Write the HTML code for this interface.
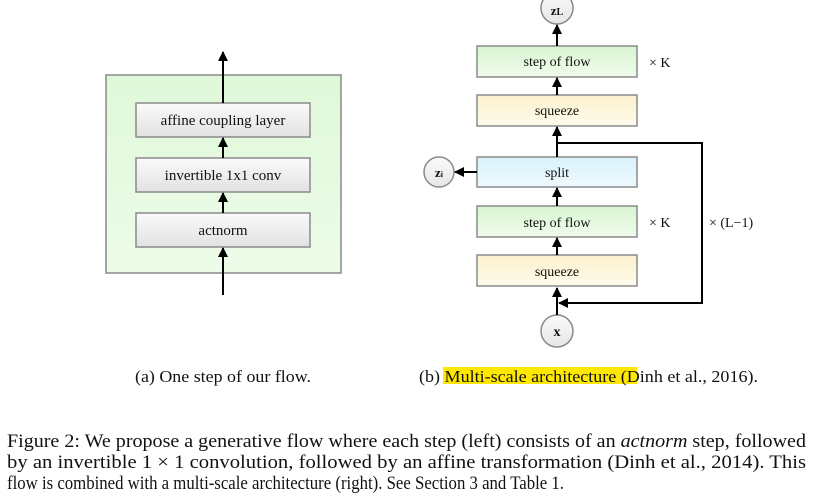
<!DOCTYPE html>
<html><head><meta charset="utf-8"><style>
html,body{margin:0;padding:0;background:#fff;}
svg{display:block;}
text{font-family:"Liberation Serif",serif;fill:#111;}
</style></head><body>
<svg width="813" height="493" viewBox="0 0 813 493" xmlns="http://www.w3.org/2000/svg">
<defs>
<marker id="ah" markerWidth="10" markerHeight="10" refX="9" refY="5" orient="auto" markerUnits="userSpaceOnUse">
<path d="M0,0 L10,5 L0,10 z" fill="#000"/></marker>
<linearGradient id="gg" x1="0" y1="0" x2="0" y2="1"><stop offset="0" stop-color="#fafafa"/><stop offset="1" stop-color="#e2e2e2"/></linearGradient>
<linearGradient id="gr" x1="0" y1="0" x2="0" y2="1"><stop offset="0" stop-color="#d8f5d2"/><stop offset="1" stop-color="#f0fcec"/></linearGradient>
<linearGradient id="gy" x1="0" y1="0" x2="0" y2="1"><stop offset="0" stop-color="#fbf1cc"/><stop offset="1" stop-color="#fefbec"/></linearGradient>
<linearGradient id="gb" x1="0" y1="0" x2="0" y2="1"><stop offset="0" stop-color="#d9f1fb"/><stop offset="1" stop-color="#eef9fd"/></linearGradient>
<linearGradient id="gc" x1="0" y1="0" x2="0" y2="1"><stop offset="0" stop-color="#fafafa"/><stop offset="1" stop-color="#e6e6e6"/></linearGradient>
<linearGradient id="go" x1="0" y1="0" x2="0" y2="1"><stop offset="0" stop-color="#dff8d9"/><stop offset="1" stop-color="#edfce9"/></linearGradient>
</defs>
<!-- Left -->
<rect x="106" y="75" width="235" height="198" fill="url(#go)" stroke="#8a8a8a" stroke-width="1.5"/>
<g stroke="#8a8a8a" stroke-width="1.5" fill="url(#gg)">
<rect x="136" y="103" width="174" height="34"/>
<rect x="136" y="158" width="174" height="34"/>
<rect x="136" y="213" width="174" height="34"/>
</g>
<g font-size="15" text-anchor="middle">
<text x="223" y="125">affine coupling layer</text>
<text x="223" y="180">invertible 1x1 conv</text>
<text x="223" y="235">actnorm</text>
</g>
<g stroke="#000" stroke-width="2" marker-end="url(#ah)">
<line x1="223" y1="295" x2="223" y2="248"/>
<line x1="223" y1="213" x2="223" y2="193"/>
<line x1="223" y1="158" x2="223" y2="138"/>
<line x1="223" y1="103" x2="223" y2="52"/>
</g>
<!-- Right -->
<g stroke="#8a8a8a" stroke-width="1.5">
<rect x="477" y="46" width="160" height="31" fill="url(#gr)"/>
<rect x="477" y="95" width="160" height="31" fill="url(#gy)"/>
<rect x="477" y="157" width="160" height="30" fill="url(#gb)"/>
<rect x="477" y="206" width="160" height="31" fill="url(#gr)"/>
<rect x="477" y="255" width="160" height="31" fill="url(#gy)"/>
<circle cx="557" cy="8" r="16" fill="url(#gc)"/>
<circle cx="439" cy="172" r="15" fill="url(#gc)"/>
<circle cx="557" cy="331" r="16" fill="url(#gc)"/>
</g>
<g font-size="14" text-anchor="middle">
<text x="557" y="66">step of flow</text>
<text x="557" y="115">squeeze</text>
<text x="557" y="177">split</text>
<text x="557" y="227">step of flow</text>
<text x="557" y="276">squeeze</text>
<text x="557" y="336" font-weight="bold">x</text>
<text x="557" y="15" font-weight="bold" font-size="13">z<tspan font-size="10">L</tspan></text>
<text x="439" y="177" font-weight="bold" font-size="13">z<tspan font-size="8">i</tspan></text>
</g>
<g font-size="14">
<text x="649" y="67">× K</text>
<text x="649" y="227">× K</text>
<text x="709" y="227">× (L−1)</text>
</g>
<g stroke="#000" stroke-width="2" fill="none">
<line x1="557" y1="315" x2="557" y2="288" marker-end="url(#ah)"/>
<line x1="557" y1="255" x2="557" y2="238" marker-end="url(#ah)"/>
<line x1="557" y1="206" x2="557" y2="188" marker-end="url(#ah)"/>
<line x1="557" y1="157" x2="557" y2="127" marker-end="url(#ah)"/>
<line x1="557" y1="95" x2="557" y2="78" marker-end="url(#ah)"/>
<line x1="557" y1="46" x2="557" y2="25" marker-end="url(#ah)"/>
<line x1="477" y1="172" x2="455" y2="172" marker-end="url(#ah)"/>
<polyline points="557,143 702,143 702,303 559,303" marker-end="url(#ah)"/>
</g>
<!-- captions -->
<rect x="443" y="367" width="194" height="17" fill="#ffe800"/>
<text x="135" y="382" font-size="17" textLength="176" lengthAdjust="spacingAndGlyphs">(a) One step of our flow.</text>
<text x="419" y="382" font-size="17" lengthAdjust="spacingAndGlyphs" textLength="339">(b) Multi-scale architecture (Dinh et al., 2016).</text>
<text x="7" y="447" font-size="19" textLength="799" lengthAdjust="spacingAndGlyphs">Figure 2: We propose a generative flow where each step (left) consists of an <tspan font-style="italic">actnorm</tspan> step, followed</text>
<text x="7" y="468" font-size="19" textLength="799" lengthAdjust="spacingAndGlyphs">by an invertible 1 × 1 convolution, followed by an affine transformation (Dinh et al., 2014). This</text>
<text x="7" y="489" font-size="19" textLength="557" lengthAdjust="spacingAndGlyphs">flow is combined with a multi-scale architecture (right). See Section 3 and Table 1.</text>
</svg>
</body></html>
